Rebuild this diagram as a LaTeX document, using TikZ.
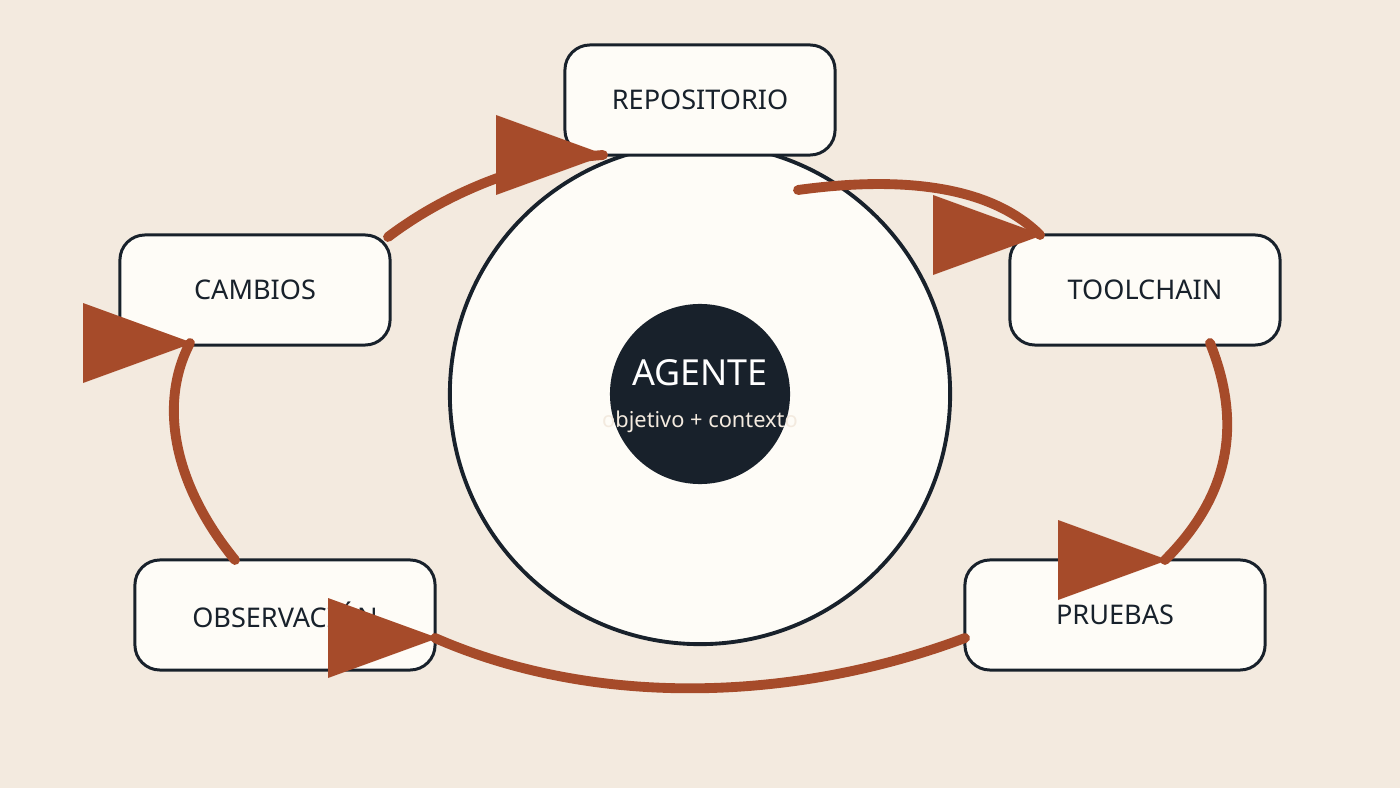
\documentclass[tikz,border=0pt]{standalone}
\usepackage{fontspec}
\setmainfont{Noto Sans}
\usepackage{xcolor}
\usetikzlibrary{positioning}
\definecolor{paper}{HTML}{F3EADF}
\definecolor{card}{HTML}{FEFCF7}
\definecolor{ink}{HTML}{18212B}
\definecolor{rust}{HTML}{A64B2A}
\begin{document}
\begin{tikzpicture}[x=0.01cm,y=-0.01cm,
                    box/.style={rectangle,rounded corners=0.25cm,draw=ink,fill=card,line width=0.85pt,
                      minimum width=2.7cm,minimum height=1.1cm,font=\fontsize{7.7}{9}\selectfont\bfseries,text=ink},
                    wide box/.style={box,minimum width=3cm},
                    loop/.style={draw=rust,line width=2.8pt,line cap=round}]
  \fill[paper] (0,0) rectangle (1400,788);
  \useasboundingbox (0,0) rectangle (1400,788);

  % ring and agent
  \node[circle,draw=ink,fill=card,line width=1.1pt,minimum size=5cm] (ring) at (700,394) {};
  \node[circle,fill=ink,minimum size=1.8cm] (agent) at (700,394) {};
  \node[text=white,font=\fontsize{10.2}{12}\selectfont\bfseries] (agentlbl) at (700,373) {AGENTE};
  \node[text=paper,font=\fontsize{6.2}{8}\selectfont] (goal) at (700,422) {objetivo + contexto};

  % stations
  \node[box] (repo) at (700,100) {REPOSITORIO};
  \node[box] (cambios) at (255,290) {CAMBIOS};
  \node[box] (tool) at (1145,290) {TOOLCHAIN};
  \node[wide box] (obs) at (285,615) {OBSERVACIÓN};
  \node[wide box] (pruebas) at (1115,615) {PRUEBAS};

  % ends of the loop
  \coordinate (c1) at (388,237);  \coordinate (r1) at (603,155);
  \coordinate (r2) at (798,190);  \coordinate (t1) at (1040,235);
  \coordinate (t2) at (1210,343); \coordinate (p1) at (1165,560);
  \coordinate (p2) at (965,638);  \coordinate (o1) at (435,638);
  \coordinate (o2) at (235,560);  \coordinate (c2) at (190,343);

  \draw[loop] (c1) .. controls (450,190) and (530,160) .. (r1);
  \draw[loop] (r2) .. controls (900,176) and (990,185) .. (t1);
  \draw[loop] (t2) .. controls (1245,430) and (1225,500) .. (p1);
  \draw[loop] (p2) .. controls (800,700) and (600,710) .. (o1);
  \draw[loop] (o2) .. controls (170,480) and (160,400) .. (c2);

  \foreach \tip in {r1,t1,p1,o1,c2}
    \fill[rust] (\tip) ++(3,0) -- ++(-110,-40) -- ++(0,80) -- cycle;
\end{tikzpicture}
\end{document}
